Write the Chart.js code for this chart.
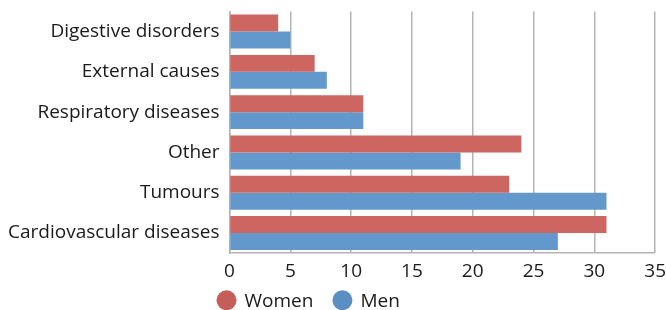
<!DOCTYPE html>
<html><head><meta charset="utf-8">
<script src="https://cdn.jsdelivr.net/npm/chart.js@4"></script>
<style>html,body{margin:0;padding:0;background:#fff}#wrap{width:666px;height:310px}</style>
</head><body><div id="wrap"><canvas id="c"></canvas></div>
<script>
const categories = ["Digestive disorders","External causes","Respiratory diseases","Other","Tumours","Cardiovascular diseases"];
const women = [4, 7, 11, 24, 23, 31];
const men = [5, 8, 11, 19, 31, 27];
const xTicks = [0,5,10,15,20,25,30,35];

const FONT = "'Open Sans', sans-serif";
const TEXT = '#1a1a1a';

// Legend drawn below the plot, starting just left of the chart area
const bottomLegend = {
  id: 'bottomLegend',
  afterDraw(chart) {
    const ctx = chart.ctx;
    const area = chart.chartArea;
    const r = 10;
    let x = area.left - 3;
    const y = area.bottom + 47;
    ctx.save();
    ctx.font = "19px " + FONT;
    ctx.textBaseline = 'middle';
    ctx.textAlign = 'left';
    chart.data.datasets.forEach(ds => {
      ctx.beginPath();
      ctx.arc(x, y, r, 0, Math.PI * 2);
      ctx.fillStyle = ds.legendColor || ds.backgroundColor;
      ctx.fill();
      ctx.fillStyle = TEXT;
      const tx = x + r + 8;
      ctx.fillText(ds.label, tx, y + 1);
      x = tx + ctx.measureText(ds.label).width + 19 + r;
    });
    ctx.restore();
  }
};

new Chart(document.getElementById('c'), {
  type: 'bar',
  data: {
    labels: categories,
    datasets: [
      { label: 'Women', data: women, backgroundColor: '#cd6660', legendColor: '#c55e59', borderWidth: 0 },
      { label: 'Men', data: men, backgroundColor: '#6398cc', legendColor: '#5b8fc4', borderWidth: 0 }
    ]
  },
  options: {
    indexAxis: 'y',
    responsive: true,
    maintainAspectRatio: false,
    animation: false,
    datasets: { bar: { categoryPercentage: 0.84, barPercentage: 1.0 } },
    layout: { padding: { top: 0, left: 8, right: 0, bottom: 27 } },
    scales: {
      x: {
        min: 0, max: 35,
        afterBuildTicks(axis) { axis.ticks = xTicks.map(v => ({ value: v })); },
        grid: { color: '#b4b4b4', lineWidth: 1.5, drawTicks: true, tickLength: 7, tickColor: 'rgba(0,0,0,0)' },
        border: { color: '#b4b4b4', width: 1.5 },
        ticks: { color: TEXT, font: { family: FONT, size: 19 }, padding: 0 }
      },
      y: {
        grid: { display: false, drawTicks: true, tickLength: 10, tickColor: 'rgba(0,0,0,0)' },
        border: { color: '#b4b4b4', width: 1.5 },
        ticks: { color: TEXT, font: { family: FONT, size: 19 }, padding: 0 }
      }
    },
    plugins: {
      tooltip: { enabled: false },
      legend: { display: false }
    }
  },
  plugins: [bottomLegend]
});
</script></body></html>
